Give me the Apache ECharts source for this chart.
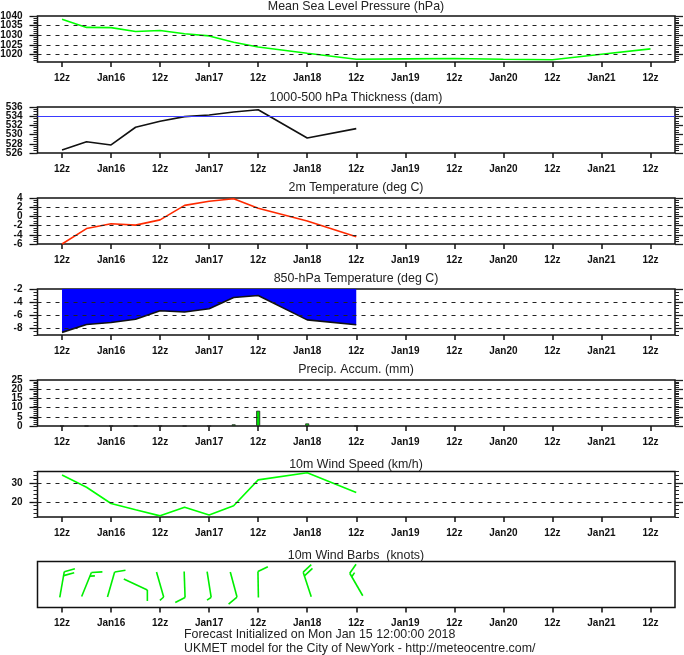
<!DOCTYPE html>
<html>
<head>
<meta charset="utf-8">
<title>UKMET meteogram</title>
<script src="https://cdn.jsdelivr.net/npm/echarts@6/dist/echarts.min.js"></script>
<style>
	html, body { margin: 0; padding: 0; background: #fff; }
	#main { width: 684px; height: 655px; }
</style>
</head>
<body>
<div id="main"></div>
<script>
// forecast hours since Jan 15 12z
var hoursLong = [0, 6, 12, 18, 24, 30, 36, 42, 48, 60, 72, 84, 96, 108, 120, 132, 144];
var hoursShort = [0, 6, 12, 18, 24, 30, 36, 42, 48, 60, 72];
var xTicks = [0, 12, 24, 36, 48, 60, 72, 84, 96, 108, 120, 132, 144];
var xLabels = ['12z', 'Jan16', '12z', 'Jan17', '12z', 'Jan18', '12z', 'Jan19', '12z', 'Jan20', '12z', 'Jan21', '12z'];

var pressure = [1038.3, 1034.1, 1034, 1032, 1032.5, 1030.8, 1029.7, 1026.4, 1024, 1020.7, 1017.6, 1017.8, 1018, 1017.6, 1017.4, 1020.2, 1023];
var thickness = [526.65, 528.45, 527.75, 531.6, 532.9, 533.9, 534.25, 534.9, 535.4, 529.25, 531.3];
var temp2m = [-6, -2.65, -1.6, -1.9, -0.75, 2.4, 3.3, 3.85, 1.75, -1, -4.4];
var temp850 = [-8.6, -7.4, -7.1, -6.6, -5.3, -5.5, -5, -3.3, -3, -6.7, -7.45];
var precip = [0, 0, 0, 0, 0, 0, 0, 0.9, 8.3, 1.4, 0];
var windSpeed = [34.2, 27.7, 19.1, 15.8, 12.6, 17.2, 13, 17.9, 31.6, 35.3, 24.9];

// barbs: direction the shaft points to (deg from north), long and short feathers
var barbDir = [10, 22, 16, 115, 164, 178, 171, 165, 359, 342, 330];
var barbLong = [2, 1, 1, 1, 0, 1, 0, 1, 1, 2, 1];
var barbShort = [0, 1, 0, 0, 1, 0, 1, 0, 0, 0, 1];

var pressureTicks = [1040, 1035, 1030, 1025, 1020];
var thicknessTicks = [536, 534, 532, 530, 528, 526];
var temp2mTicks = [4, 2, 0, -2, -4, -6];
var temp850Ticks = [-2, -4, -6, -8];
var precipTicks = [25, 20, 15, 10, 5, 0];
var windTicks = [30, 20];

var pressureDash = [1035, 1030, 1025, 1020];
var temp2mDash = [2, 0, -2, -4];
var temp850Dash = [-4, -6, -8];
var precipDash = [20, 15, 10, 5];
var windDash = [30, 20];
var thicknessRef = [534];

var FONT = '"Liberation Sans", Arial, sans-serif';
var LEFT = 37.5, WIDTH = 637.5;

function zip(a, b) {
	return a.map(function (v, i) { return [v, b[i]]; });
}

// small tick positions between min and max
function minorValues(min, max, step) {
	var list = [];
	for (var v = min; v <= max + 1e-6; v += step) {
		list.push(v);
	}
	return list;
}

var panels = [
	{ title: 'Mean Sea Level Pressure (hPa)', titleTop: 1, top: 16, height: 46, min: 1016.2, max: 1040, ticks: pressureTicks, minor: 1, minorFrom: 1017 },
	{ title: '1000-500 hPa Thickness (dam)', titleTop: 92, top: 107, height: 46, min: 526, max: 536, ticks: thicknessTicks, minor: 0.5, minorFrom: 526 },
	{ title: '2m Temperature (deg C)', titleTop: 182, top: 198, height: 46, min: -6, max: 4, ticks: temp2mTicks, minor: 0.5, minorFrom: -6 },
	{ title: '850-hPa Temperature (deg C)', titleTop: 273, top: 289, height: 46, min: -9, max: -2, ticks: temp850Ticks, minor: 0.5, minorFrom: -9 },
	{ title: 'Precip. Accum. (mm)', titleTop: 364, top: 380, height: 46, min: 0, max: 25, ticks: precipTicks, minor: 1, minorFrom: 0 },
	{ title: '10m Wind Speed (km/h)', titleTop: 459, top: 471.5, height: 45.5, min: 12, max: 36, ticks: windTicks, minor: 2, minorFrom: 12 },
	{ title: '10m Wind Barbs  (knots)', titleTop: 550, top: 561.5, height: 46, min: -1, max: 1, ticks: [], minor: 0, minorFrom: 0 }
];

var grids = [], xAxes = [], yAxes = [], titles = [];

function yLabel(values) {
	return {
		show: values.length > 0, margin: 15, customValues: values, hideOverlap: false,
		showMinLabel: true, showMaxLabel: true,
		fontFamily: FONT, fontSize: 10, fontWeight: 'bold', color: '#111',
		formatter: function (v) { return String(v); }
	};
}

panels.forEach(function (p, i) {
	grids.push({
		left: LEFT, width: WIDTH, top: p.top, height: p.height, outerBoundsMode: 'none',
		show: true, borderColor: '#111', borderWidth: 1.5, backgroundColor: 'transparent'
	});
	titles.push({
		text: p.title, left: 356, top: p.titleTop, textAlign: 'center', padding: 0,
		textStyle: { fontFamily: FONT, fontSize: 12.4, fontWeight: 'normal', color: '#222' }
	});
	xAxes.push({
		type: 'value', gridIndex: i, min: -6, max: 150, position: 'bottom',
		axisLine: { show: false, onZero: false },
		splitLine: { show: false },
		axisTick: { show: true, length: 5, customValues: xTicks, lineStyle: { color: '#111', width: 1.5 } },
		axisLabel: {
			show: true, margin: 11, customValues: xTicks, hideOverlap: false,
			showMinLabel: true, showMaxLabel: true,
			fontFamily: FONT, fontSize: 10, fontWeight: 'bold', color: '#111',
			formatter: function (v) { return xLabels[xTicks.indexOf(v)]; }
		}
	});
	var minorList = p.minor ? minorValues(p.minorFrom, p.max, p.minor) : [];
	// echarts drops tightly packed labels, so the labels are shared over the two left axes
	var labelsA = p.ticks.filter(function (v, k) { return k % 2 === 0; });
	var labelsB = p.ticks.filter(function (v, k) { return k % 2 === 1; });
	// major left, minor left, major right, minor right
	yAxes.push({
		type: 'value', gridIndex: i, position: 'left', min: p.min, max: p.max,
		show: p.ticks.length > 0,
		axisLine: { show: false, onZero: false },
		axisTick: { show: true, length: 8, customValues: p.ticks, lineStyle: { color: '#111', width: 1.3 } },
		axisLabel: yLabel(labelsA),
		splitLine: { show: false }
	});
	['left', 'right', 'right'].forEach(function (side, k) {
		var isMinor = k !== 1;
		yAxes.push({
			type: 'value', gridIndex: i, position: side, min: p.min, max: p.max,
			show: p.ticks.length > 0,
			axisLine: { show: false, onZero: false },
			axisLabel: k === 0 ? yLabel(labelsB) : { show: false },
			splitLine: { show: false },
			axisTick: {
				show: true, length: isMinor ? 4 : 8, customValues: isMinor ? minorList : p.ticks,
				lineStyle: { color: '#222', width: isMinor ? 1 : 1.3 }
			}
		});
	});
});

titles.push({
	text: 'Forecast Initialized on Mon Jan 15 12:00:00 2018', left: 184, top: 629, padding: 0,
	textStyle: { fontFamily: FONT, fontSize: 12.4, fontWeight: 'normal', color: '#222' }
});
titles.push({
	text: 'UKMET model for the City of NewYork - http://meteocentre.com/', left: 184, top: 643, padding: 0,
	textStyle: { fontFamily: FONT, fontSize: 12.4, fontWeight: 'normal', color: '#222' }
});

function lineSeries(panel, hours, values, color, dash) {
	var s = {
		type: 'line', xAxisIndex: panel, yAxisIndex: panel * 4,
		data: zip(hours, values), showSymbol: false, symbol: 'none', silent: true, clip: false,
		lineStyle: { color: color, width: 1.6 }
	};
	if (dash) {
		s.markLine = {
			silent: true, symbol: 'none', animation: false,
			label: { show: false },
			lineStyle: { color: '#222', width: 1, type: [4, 5] },
			data: dash.map(function (v) { return { yAxis: v }; })
		};
	}
	return s;
}

// one barb centred on its forecast hour; feathers sit at the far end of the shaft
function renderBarb(params, api) {
	var i = params.dataIndex;
	var c = api.coord([api.value(0), api.value(1)]);
	var rad = barbDir[i] * Math.PI / 180;
	var ux = Math.sin(rad), uy = -Math.cos(rad);
	var half = 13, step = 4;
	var tip = [c[0] + ux * half, c[1] + uy * half];
	var style = { stroke: '#00ee00', lineWidth: 1.6, fill: null };
	var children = [{
		type: 'line',
		shape: { x1: c[0] - ux * half, y1: c[1] - uy * half, x2: tip[0], y2: tip[1] },
		style: style
	}];
	var feather = rad + 65 * Math.PI / 180;
	var fx = Math.sin(feather), fy = -Math.cos(feather);
	var n = 0;
	function add(len) {
		var sx = tip[0] - ux * step * n, sy = tip[1] - uy * step * n;
		children.push({
			type: 'line',
			shape: { x1: sx, y1: sy, x2: sx + fx * len, y2: sy + fy * len },
			style: style
		});
		n++;
	}
	for (var l = 0; l < barbLong[i]; l++) { add(11); }
	for (var s = 0; s < barbShort[i]; s++) { add(5); }
	return { type: 'group', children: children };
}

var thicknessSeries = lineSeries(1, hoursShort, thickness, '#111');
thicknessSeries.markLine = {
	silent: true, symbol: 'none', animation: false,
	label: { show: false },
	lineStyle: { color: '#3a3aff', width: 1.2, type: 'solid' },
	data: thicknessRef.map(function (v) { return { yAxis: v }; })
};

var areaSeries = lineSeries(3, hoursShort, temp850, '#111', temp850Dash);
areaSeries.areaStyle = { color: '#0000ff', opacity: 1, origin: 'end' };

var barSeries = {
	type: 'bar', xAxisIndex: 4, yAxisIndex: 16, barWidth: 4, silent: true,
	data: zip(hoursShort, precip),
	itemStyle: { color: '#00e000', borderColor: '#222', borderWidth: 0.8 },
	markLine: {
		silent: true, symbol: 'none', animation: false,
		label: { show: false },
		lineStyle: { color: '#222', width: 1, type: [4, 5] },
		data: precipDash.map(function (v) { return { yAxis: v }; })
	}
};

var option = {
	animation: false,
	backgroundColor: '#fff',
	title: titles,
	grid: grids,
	xAxis: xAxes,
	yAxis: yAxes,
	series: [
		lineSeries(0, hoursLong, pressure, '#00ff00', pressureDash),
		thicknessSeries,
		lineSeries(2, hoursShort, temp2m, '#ff2a00', temp2mDash),
		areaSeries,
		barSeries,
		lineSeries(5, hoursShort, windSpeed, '#00ff00', windDash),
		{
			type: 'custom', xAxisIndex: 6, yAxisIndex: 24, silent: true, clip: false,
			data: hoursShort.map(function (h) { return [h, 0]; }),
			renderItem: renderBarb
		}
	]
};

var chart = echarts.init(document.getElementById('main'), null, { renderer: 'canvas' });
chart.setOption(option);
</script>
</body>
</html>
